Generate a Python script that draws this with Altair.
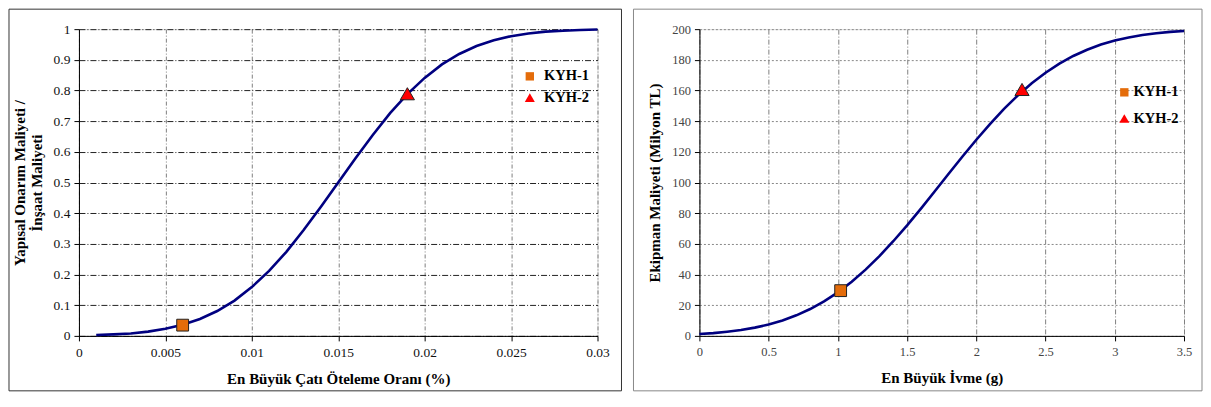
import altair as alt
import pandas as pd

# ---- Left panel data: structural repair cost ratio vs. max roof drift ratio
drift_x = [0.001, 0.002, 0.003, 0.004, 0.005, 0.006, 0.007, 0.008, 0.009, 0.010,
           0.011, 0.012, 0.013, 0.014, 0.015, 0.016, 0.017, 0.018, 0.019, 0.020,
           0.021, 0.022, 0.023, 0.024, 0.025, 0.026, 0.027, 0.028, 0.029, 0.030]
drift_y = [0.003, 0.005, 0.008, 0.014, 0.023, 0.036, 0.055, 0.081, 0.115, 0.159,
           0.212, 0.274, 0.345, 0.421, 0.500, 0.579, 0.655, 0.726, 0.788, 0.841,
           0.885, 0.919, 0.945, 0.964, 0.977, 0.986, 0.992, 0.995, 0.997, 0.999]

# ---- Right panel data: equipment cost vs. peak acceleration
acc_x = [0.0, 0.1, 0.2, 0.3, 0.4, 0.5, 0.6, 0.7, 0.8, 0.9, 1.0, 1.1, 1.2, 1.3,
         1.4, 1.5, 1.6, 1.7, 1.8, 1.9, 2.0, 2.1, 2.2, 2.3, 2.4, 2.5, 2.6, 2.7,
         2.8, 2.9, 3.0, 3.1, 3.2, 3.3, 3.4, 3.5]
acc_y = [1.2, 1.8, 2.7, 3.8, 5.4, 7.4, 10.0, 13.4, 17.5, 22.5, 28.4, 35.3, 43.2,
         52.0, 61.7, 72.1, 83.0, 94.3, 105.7, 117.0, 127.9, 138.3, 148.0, 156.8,
         164.7, 171.6, 177.5, 182.5, 186.6, 190.0, 192.6, 194.6, 196.2, 197.3,
         198.2, 198.8]

series = ["KYH-1", "KYH-2"]
left_pts_x = [0.006, 0.019]
left_pts_y = [0.035, 0.786]
right_pts_x = [1.02, 2.33]
right_pts_y = [29.5, 160.0]

left_ticks_x = [0, 0.005, 0.01, 0.015, 0.02, 0.025, 0.03]
left_ticks_y = [0, 0.1, 0.2, 0.3, 0.4, 0.5, 0.6, 0.7, 0.8, 0.9, 1]
right_ticks_x = [0, 0.5, 1, 1.5, 2, 2.5, 3, 3.5]
right_ticks_y = [0, 20, 40, 60, 80, 100, 120, 140, 160, 180, 200]

FONT = "Liberation Serif"
NAVY = "#000080"
TRIANGLE = "M0,-1.2L1.2,0.85L-1.2,0.85Z"

left_curve = pd.DataFrame({"x": drift_x, "y": drift_y})
left_pts = pd.DataFrame({"x": left_pts_x, "y": left_pts_y, "s": series})
right_curve = pd.DataFrame({"x": acc_x, "y": acc_y})
right_pts = pd.DataFrame({"x": right_pts_x, "y": right_pts_y, "s": series})
one = pd.DataFrame({"a": [0]})

fill_scale = alt.Scale(domain=series, range=["#E46C0A", "#FF0000"])
shape_scale = alt.Scale(domain=series, range=["square", TRIANGLE])


def panel(curve, pts, xdom, ydom, xt, yt, xtitle, ytitle, w, h,
          frame, frame_color, ygrid_dash, ygrid_color, xgrid_dash,
          label_size, label_color, leg_x, leg_y, leg_pad, leg_off):
    common = dict(format="~r", grid=True, gridWidth=1, labelOverlap=False,
                  labelFont=FONT, labelFontSize=label_size, labelColor=label_color,
                  titleFont=FONT, titleFontSize=15, titleFontWeight="bold",
                  titleColor="black", domainColor="black", tickColor="black",
                  tickSize=5, labelFlush=False)
    xaxis = alt.Axis(values=xt, title=xtitle, gridColor="#808080",
                     gridDash=xgrid_dash, titlePadding=12, labelPadding=5, **common)
    yaxis = alt.Axis(values=yt, title=ytitle, gridColor=ygrid_color,
                     gridDash=ygrid_dash, titlePadding=9, labelPadding=4, **common)
    xs = alt.Scale(domain=xdom, nice=False, zero=False)
    ys = alt.Scale(domain=ydom, nice=False)
    xenc = alt.X("x:Q", scale=xs, axis=xaxis)
    yenc = alt.Y("y:Q", scale=ys, axis=yaxis)
    line = alt.Chart(curve).mark_line(color=NAVY, strokeWidth=2.6).encode(
        x=xenc, y=yenc,
    )
    leg = dict(title=None, orient="none", legendX=leg_x, legendY=leg_y,
               labelFont=FONT, labelFontSize=14.5, labelFontWeight="bold",
               labelColor="black", symbolSize=70, symbolStrokeColor="#222222",
               symbolStrokeWidth=1, rowPadding=leg_pad, labelOffset=leg_off)
    points = alt.Chart(pts).mark_point(filled=True, size=140, stroke="#222222",
                                       strokeWidth=1, opacity=1).encode(
        x=xenc,
        y=yenc,
        fill=alt.Fill("s:N", scale=fill_scale, legend=alt.Legend(**leg)),
        shape=alt.Shape("s:N", scale=shape_scale, legend=alt.Legend(**leg)),
    )
    box = alt.Chart(one).mark_rect(fill="transparent", stroke=frame_color,
                                   strokeWidth=1).encode(
        x=alt.value(frame[0]), x2=alt.value(frame[1]),
        y=alt.value(frame[2]), y2=alt.value(frame[3]),
    )
    return alt.layer(box, line, points).properties(width=w, height=h)


left = panel(left_curve, left_pts, [0, 0.03], [0, 1], left_ticks_x, left_ticks_y,
             "En Büyük Çatı Öteleme Oranı (%)",
             ["Yapısal Onarım Maliyeti /", "İnşaat Maliyeti"],
             519, 307, (-70, 543, -20, 362), "#333333", [6, 2, 1, 2], "#222222",
             [4, 2, 1, 2], 13.5, "#111111", 444, 40, 7, 7)

right = panel(right_curve, right_pts, [0, 3.5], [0, 200], right_ticks_x, right_ticks_y,
              "En Büyük İvme (g)", "Ekipman  Maliyeti (Milyon TL)",
              485, 307, (-66, 503, -20, 362), "#888888", [2, 2], "#888888",
              [5, 2, 1, 2], 12.5, "#444444", 418, 56, 12, 2)

chart = alt.hconcat(left, right, spacing=10, padding=0).resolve_scale(
    fill="independent", shape="independent"
).resolve_legend(fill="independent", shape="independent"
).configure_view(stroke="black", strokeWidth=1
).configure_axis(labelFont=FONT, titleFont=FONT
).configure_legend(labelFont=FONT
).configure(background="white", font=FONT)

chart.save("out.html", embed_options={"renderer": "svg", "actions": False})
